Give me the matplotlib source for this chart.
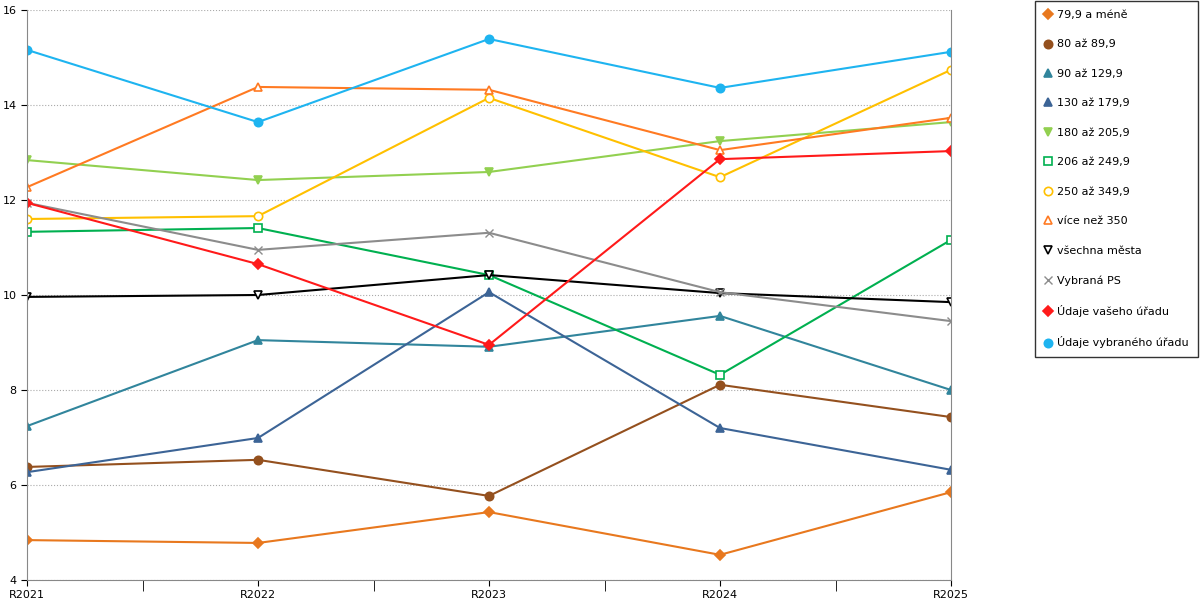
import matplotlib.pyplot as plt

years = ['R2021', 'R2022', 'R2023', 'R2024', 'R2025']

s_79 = [4.84, 4.78, 5.43, 4.53, 5.85]
s_80 = [6.38, 6.53, 5.77, 8.11, 7.43]
s_90 = [7.24, 9.05, 8.91, 9.56, 8.00]
s_130 = [6.27, 6.99, 10.06, 7.20, 6.32]
s_180 = [12.84, 12.42, 12.59, 13.24, 13.64]
s_206 = [11.33, 11.41, 10.42, 8.32, 11.16]
s_250 = [11.60, 11.66, 14.15, 12.48, 14.74]
s_350 = [12.27, 14.38, 14.32, 13.05, 13.73]
s_all = [9.96, 10.00, 10.42, 10.04, 9.85]
s_ps = [11.94, 10.95, 11.31, 10.06, 9.45]
s_vas = [11.94, 10.65, 8.95, 12.86, 13.03]
s_vyb = [15.16, 13.64, 15.39, 14.36, 15.12]

# (label, data, colour, marker, filled)
series = [
    ('79,9 a méně', s_79, '#E8781E', 'D', True),
    ('80 až 89,9', s_80, '#94501E', 'o', True),
    ('90 až 129,9', s_90, '#31859C', '^', True),
    ('130 až 179,9', s_130, '#3C6496', '^', True),
    ('180 až 205,9', s_180, '#92D050', 'v', True),
    ('206 až 249,9', s_206, '#00B050', 's', False),
    ('250 až 349,9', s_250, '#FFC000', 'o', False),
    ('více než 350', s_350, '#FF7A22', '^', False),
    ('všechna města', s_all, '#000000', 'v', False),
    ('Vybraná PS', s_ps, '#8C8C8C', 'x', True),
    ('Údaje vašeho úřadu', s_vas, '#FF1A1A', 'D', True),
    ('Údaje vybraného úřadu', s_vyb, '#1EB4F0', 'o', True),
]

plt.rcParams['font.family'] = 'DejaVu Sans'
fig = plt.figure(figsize=(12, 6), dpi=100)
ax = fig.add_axes([27 / 1200, 20 / 600, 924 / 1200, 570 / 600])

x = range(len(years))
for label, data, col, mk, filled in series:
    size = 6 if mk != 'D' else 5
    ax.plot(x, data, color=col, lw=1.5, marker=mk, ms=size, label=label,
            mfc=col if filled else 'white', mec=col, mew=1.2 if mk != 'x' else 1.0)

ax.set_xlim(0, 4)
ax.set_ylim(4, 16)
ax.set_yticks([4, 6, 8, 10, 12, 14, 16])
ax.set_xticks(list(x))
ax.set_xticklabels(years)
ax.set_xticks([0.5, 1.5, 2.5, 3.5], minor=True)
ax.tick_params(labelsize=8, direction='out', length=4)
ax.tick_params(which='minor', length=8)
ax.grid(axis='y', ls=':', color='#aaaaaa', lw=0.8)
ax.spines['top'].set_visible(False)
for sp in ['right', 'left', 'bottom']:
    ax.spines[sp].set_color('#888888')

leg = fig.legend(loc='upper left', bbox_to_anchor=(1034 / 1200, 1.0), fontsize=8,
                 frameon=True, fancybox=False, edgecolor='black', labelspacing=1.75,
                 handlelength=0.7, handletextpad=0.5, borderpad=0.8, borderaxespad=0.1)
for h in leg.legend_handles:
    h.set_linestyle('none')

fig.savefig('out.png', dpi=100)
